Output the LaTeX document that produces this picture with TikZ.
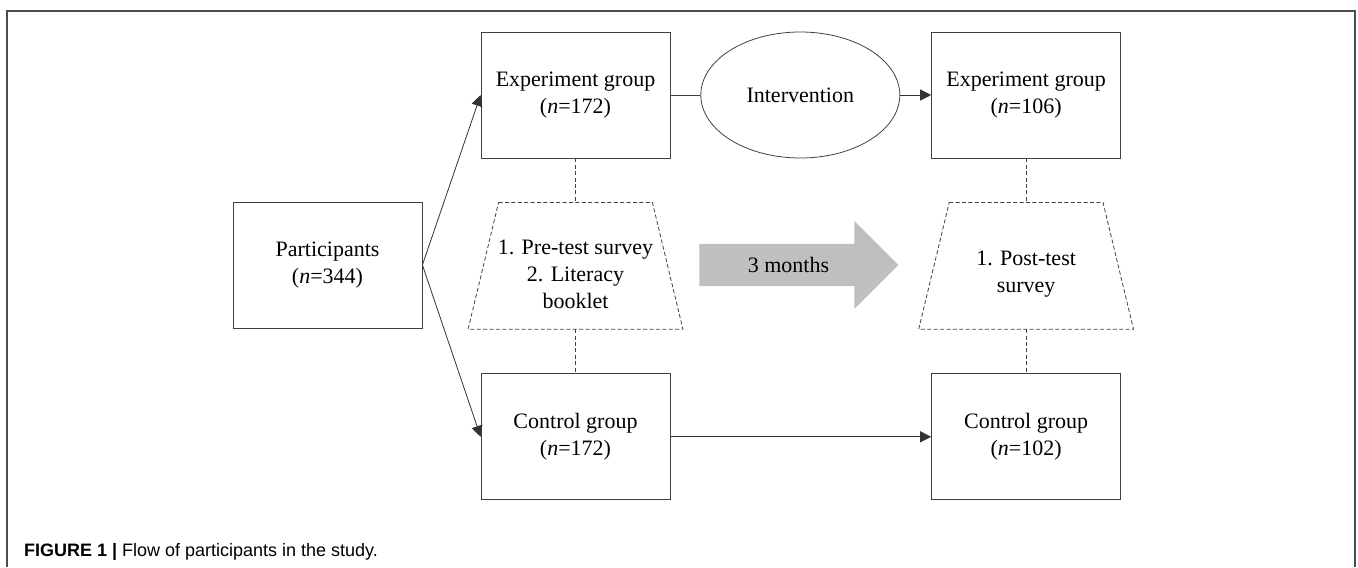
\documentclass[tikz,border=0pt]{standalone}
\usepackage{fontspec}
\setmainfont{Liberation Serif}
\setsansfont{Liberation Sans}
\usetikzlibrary{positioning,shapes.geometric,shapes.arrows,arrows.meta}

\begin{document}
\begin{tikzpicture}[x=0.5pt,y=-0.5pt,font=\fontsize{11}{13.5}\selectfont,
box/.style={rectangle,draw=black!75,align=center,minimum width=94.5pt,
minimum height=63pt,inner sep=1pt},
trap/.style={rectangle,align=center,minimum width=107pt,minimum height=63pt,
inner sep=1pt},
link/.style={draw=black!80,-{Triangle[length=5.5pt,width=5.5pt]}},
dashlink/.style={draw=black!75,dash pattern=on 2pt off 1.2pt}]
 \useasboundingbox (0,0) rectangle (1358,567);
 \draw[black!70,line width=0.6pt] (7,567) |- (1355,11) -- (1355,567);
 \node[box] (P) at (327.5,265) {Participants\\(\textit{n}=344)};
 \node[box] (E1) at (575.5,95) {Experiment group\\(\textit{n}=172)};
 \node[box,below=107.5pt of E1] (C1) {Control group\\(\textit{n}=172)};
 \node[trap,below=22pt of E1] (T1)
 {\rule{0pt}{16pt}1. Pre-test survey\\2. Literacy\\booklet};
 \node[ellipse,draw=black!75,minimum width=99.5pt,minimum height=63pt,
 right=15pt of E1] (I) {Intervention};
 \node[box,right=15.5pt of I] (E2) {Experiment group\\(\textit{n}=106)};
 \node[box,below=107.5pt of E2] (C2) {Control group\\(\textit{n}=102)};
 \node[trap,below=22pt of E2] (T2) {\rule{0pt}{16pt}1. Post-test\\survey};
 \node[single arrow,fill=black!25,minimum width=44pt,minimum height=99.5pt,
 single arrow head extend=11pt,inner ysep=6pt,anchor=tip] (M) at (899,265)
 {3 months};
 \draw[link] (P.east) -- (E1.west);
 \draw[link] (P.east) -- (C1.west);
 \draw[black!75] (E1) -- (I);
 \draw[link] (I) -- (E2);
 \draw[link] (C1) -- (C2);
 \foreach \X in {1,2}
 {\draw[dashlink] ([xshift=15.25pt]T\X.north west) -- ([xshift=-15.25pt]T\X.north east)
 -- (T\X.south east) -- (T\X.south west) -- cycle;
 \draw[dashlink] (E\X) -- (T\X);
 \draw[dashlink] (T\X) -- (C\X);}
 \node[anchor=west,font=\sffamily\fontsize{9}{11}\selectfont] (cap) at (17,552)
 {\textbf{FIGURE 1 |} Flow of participants in the study.};
\end{tikzpicture}
\end{document}
